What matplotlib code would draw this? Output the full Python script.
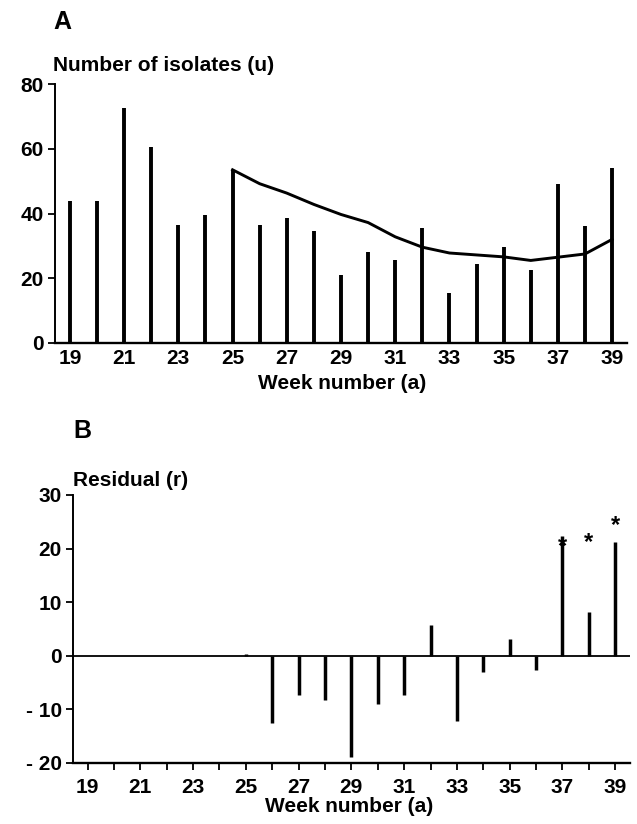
import matplotlib
matplotlib.use("Agg")
import matplotlib.pyplot as plt
import numpy as np

plt.rcParams['font.family'] = ['Liberation Sans', 'DejaVu Sans']
plt.rcParams['font.weight'] = 'bold'

# ---------------- data ----------------
weeks = list(range(19, 40))
isolates = [44, 44, 72.5, 60.5, 36.5, 39.5, 53.5, 36.5, 38.5, 34.5, 21, 28,
            25.5, 35.5, 15.5, 24.5, 29.5, 22.5, 49, 36, 54]
fit_weeks = list(range(25, 40))
fit_values = [53.5, 49.2, 46.3, 42.8, 39.7, 37.2, 32.8, 29.6, 27.8, 27.2,
              26.6, 25.5, 26.5, 27.5, 32]
resid_weeks = list(range(25, 40))
residuals = [0.3, -12.5, -7.3, -8.3, -18.8, -9.0, -7.3, 5.8, -12.2, -3.0,
             3.2, -2.7, 22.4, 8.2, 21.2]
star_weeks = [37, 38, 39]
star_y = [20.3, 21.2, 24.3]

xtick_labels = [19, 21, 23, 25, 27, 29, 31, 33, 35, 37, 39]
ya_ticks = [0, 20, 40, 60, 80]
yb_ticks = [-20, -10, 0, 10, 20, 30]
yb_labels = ['- 20', '- 10', '0', '10', '20', '30']

# ---------------- layout ----------------
W, H = 637, 824
fig = plt.figure(figsize=(W / 100, H / 100), dpi=100)

def px_axes(left, top, right, bottom):
    return fig.add_axes([left / W, 1 - bottom / H, (right - left) / W, (bottom - top) / H])

TICK_FS = 15
LAB_FS = 15

# ---------------- panel A ----------------
axA = px_axes(55, 84, 627, 343)
axA.vlines(weeks, 0, isolates, colors='black', linewidth=2.8)
axA.plot(fit_weeks, fit_values, color='black', linewidth=2.1)
axA.set_xlim(18.45, 39.55)
axA.set_ylim(0, 80)
for s in ['top', 'right']:
    axA.spines[s].set_visible(False)
axA.spines['left'].set_linewidth(1.4)
axA.spines['bottom'].set_linewidth(1.7)
axA.set_xticks(xtick_labels)
axA.set_xticklabels([str(v) for v in xtick_labels], fontsize=TICK_FS, fontweight='bold')
axA.tick_params(axis='x', length=0, pad=4)
axA.set_yticks(ya_ticks)
axA.set_yticklabels([str(v) for v in ya_ticks], fontsize=TICK_FS, fontweight='bold')
axA.tick_params(axis='y', length=5, width=1.3, pad=3)

fig.text(53 / W, 1 - 29 / H, 'A', fontsize=18, fontweight='bold', ha='left', va='baseline')
fig.text(53 / W, 1 - 71 / H, 'Number of isolates (u)', fontsize=LAB_FS,
         fontweight='bold', ha='left', va='baseline')
fig.text(342 / W, 1 - 389 / H, 'Week number (a)', fontsize=LAB_FS,
         fontweight='bold', ha='center', va='baseline')

# ---------------- panel B ----------------
axB = px_axes(73, 495, 630, 763)
axB.vlines(resid_weeks, 0, residuals, colors='black', linewidth=2.5)
axB.axhline(0, color='black', linewidth=1.3)
for wk, yv in zip(star_weeks, star_y):
    axB.text(wk, yv, '*', fontsize=17, fontweight='bold', ha='center', va='center')
axB.set_xlim(18.45, 39.56)
axB.set_ylim(-20, 30)
for s in ['top', 'right']:
    axB.spines[s].set_visible(False)
axB.spines['left'].set_linewidth(1.4)
axB.spines['bottom'].set_linewidth(1.7)
axB.set_xticks(weeks, minor=False)
axB.set_xticklabels([str(w) if w in xtick_labels else '' for w in weeks],
                    fontsize=TICK_FS, fontweight='bold')
axB.tick_params(axis='x', length=5, width=1.3, pad=6, direction='out')
axB.set_yticks(yb_ticks)
axB.set_yticklabels(yb_labels, fontsize=TICK_FS, fontweight='bold')
axB.tick_params(axis='y', length=5, width=1.3, pad=3)

fig.text(91 / W, 1 - 438 / H, 'B', fontsize=18, fontweight='bold', ha='right', va='baseline')
fig.text(73 / W, 1 - 486 / H, 'Residual (r)', fontsize=LAB_FS,
         fontweight='bold', ha='left', va='baseline')
fig.text(349 / W, 1 - 812 / H, 'Week number (a)', fontsize=LAB_FS,
         fontweight='bold', ha='center', va='baseline')

fig.savefig('out.png', dpi=100, facecolor='white')
